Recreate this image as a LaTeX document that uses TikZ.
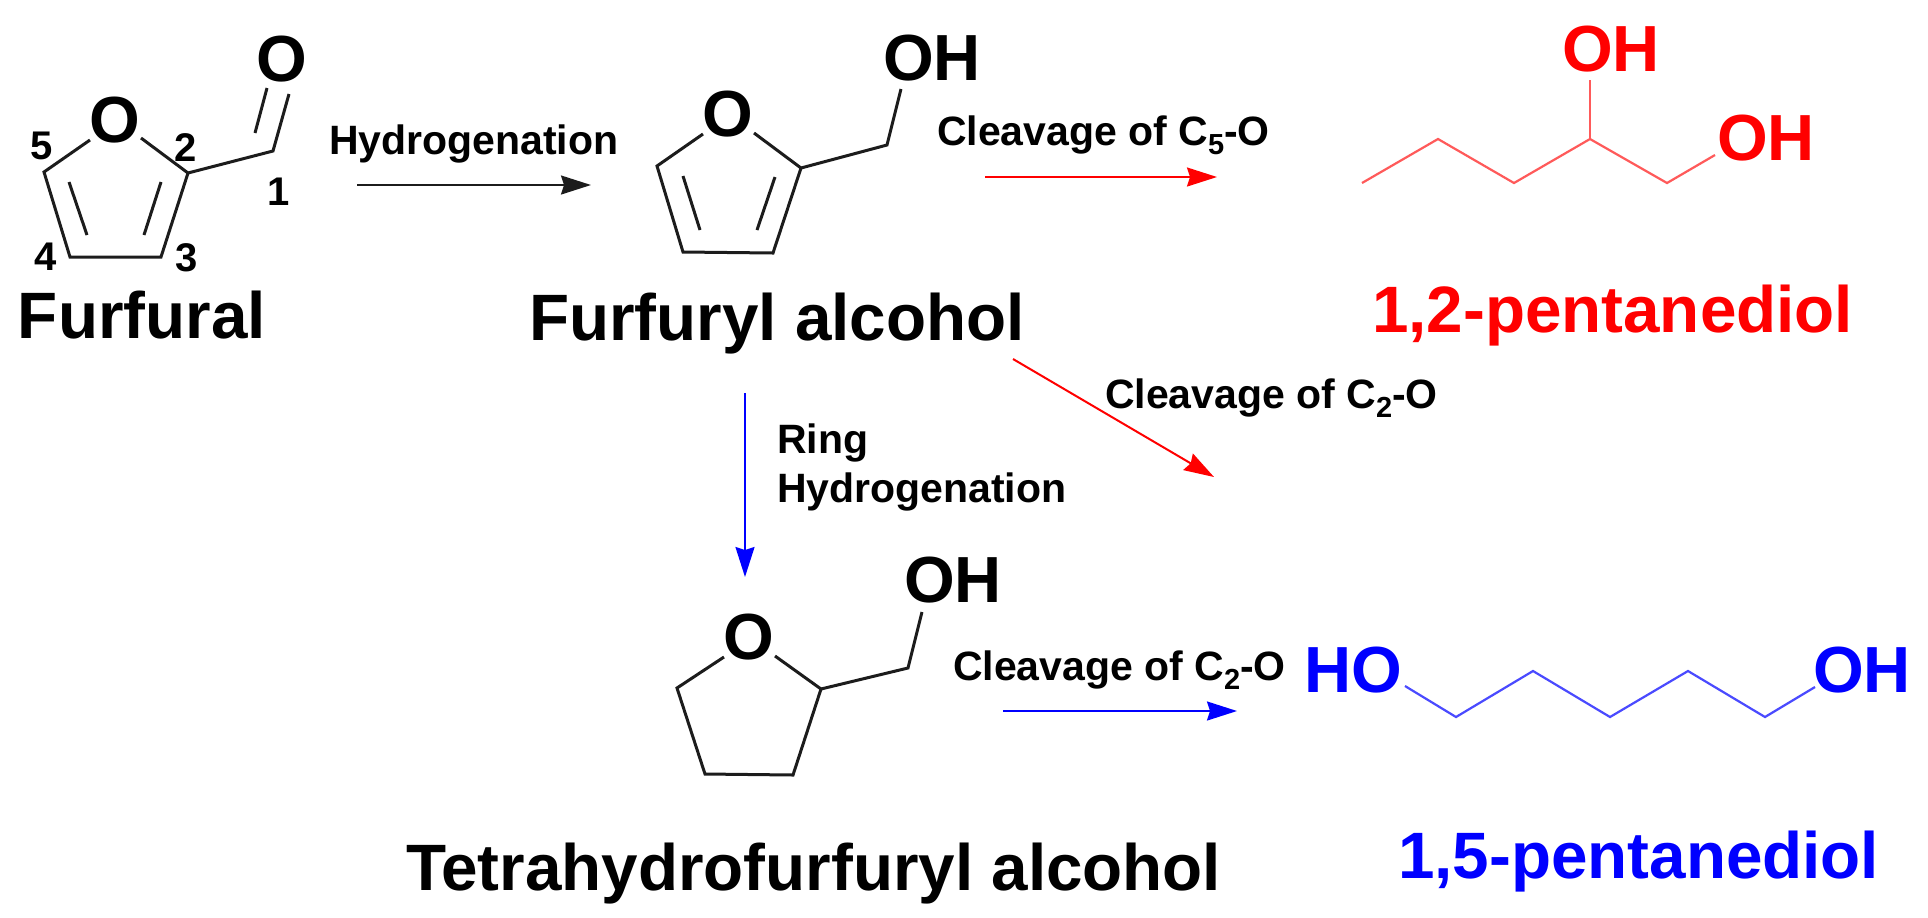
\documentclass[tikz,border=0pt]{standalone}
\usepackage{fontspec}
\setmainfont{Liberation Sans}
\usetikzlibrary{arrows.meta}
\newcommand{\subnum}[1]{\raisebox{-0.24em}{\fontsize{14.5}{14.5}\selectfont #1}}
\definecolor{bondblack}{HTML}{1C1C1C}
\definecolor{chainred}{HTML}{FF5A5A}
\definecolor{chainblue}{HTML}{4A4AFF}
\tikzset{
  x=0.5pt,y=-0.5pt,
  atom/.style={inner sep=0pt,outer sep=0pt,anchor=center,font=\fontsize{32.6}{32.6}\selectfont\bfseries},
  compound/.style={inner sep=0pt,outer sep=0pt,anchor=base west,font=\fontsize{32.8}{32.8}\selectfont\bfseries},
  condition/.style={inner sep=0pt,outer sep=0pt,anchor=base west,font=\fontsize{20.5}{20.5}\selectfont\bfseries},
  locant/.style={inner sep=0pt,outer sep=0pt,anchor=center,font=\fontsize{20}{20}\selectfont\bfseries},
  bond/.style={draw=bondblack,line width=1.5pt,line join=miter},
  redchain/.style={draw=chainred,line width=1.1pt,line join=miter},
  bluechain/.style={draw=chainblue,line width=1.1pt,line join=miter},
  rxn/.style={line width=1pt,-{Stealth[length=15pt,width=9.5pt,inset=1.5pt]}},
}
\begin{document}
\begin{tikzpicture}
\useasboundingbox (0,0) rectangle (1928,917);

% --- Furfural ---
\node[atom] (aO) at (115,120) {O};
\node[atom] (aOc) at (282,59) {O};
\coordinate (a5) at (44,172);
\coordinate (a4) at (70,257);
\coordinate (a3) at (161,257);
\coordinate (a2) at (188,173);
\coordinate (a1) at (273,151);
\coordinate (aOl) at (90,140);
\coordinate (aOr) at (141,138);
\coordinate (ad1a) at (69,182);
\coordinate (ad1b) at (87,235);
\coordinate (ad2a) at (161,182);
\coordinate (ad2b) at (144,235);
\coordinate (acoa) at (289,94);
\coordinate (acob) at (267,88);
\coordinate (acoc) at (255,133);
\draw[bond] (aOl) -- (a5) -- (a4) -- (a3) -- (a2) -- (aOr);
\draw[bond] (ad1a) -- (ad1b);
\draw[bond] (ad2a) -- (ad2b);
\draw[bond] (a2) -- (a1) -- (acoa);
\draw[bond] (acob) -- (acoc);
\node[locant] (n5) at (42,146) {5};
\node[locant] (n2) at (186,148) {2};
\node[locant] (n1) at (279,192) {1};
\node[locant] (n4) at (46,257) {4};
\node[locant] (n3) at (187,258) {3};
\node[compound] (lFurfural) at (18,338) {Furfural};

% --- Hydrogenation ---
\node[condition] (lHyd) at (329,154) {Hydrogenation};
\coordinate (h1s) at (357,185);
\coordinate (h1e) at (591,185);
\draw[rxn,bondblack] (h1s) -- (h1e);

% --- Furfuryl alcohol ---
\node[atom] (bO) at (728,114) {O};
\node[atom] (bOH) at (932,58) {OH};
\coordinate (b5) at (657,166);
\coordinate (b4) at (683,252);
\coordinate (b3) at (773,253);
\coordinate (b2) at (801,168);
\coordinate (b1) at (887,145);
\coordinate (bOl) at (703,134);
\coordinate (bOr) at (754,133);
\coordinate (bd1a) at (683,176);
\coordinate (bd1b) at (700,230);
\coordinate (bd2a) at (775,177);
\coordinate (bd2b) at (757,230);
\coordinate (bohe) at (901,89);
\draw[bond] (bOl) -- (b5) -- (b4) -- (b3) -- (b2) -- (bOr);
\draw[bond] (bd1a) -- (bd1b);
\draw[bond] (bd2a) -- (bd2b);
\draw[bond] (b2) -- (b1) -- (bohe);
\node[compound] (lFA) at (529,340) {Furfuryl alcohol};

% --- Cleavage C5-O ---
\node[condition] (lC5) at (937,145) {Cleavage of C\subnum{5}-O};
\coordinate (r1s) at (985,177);
\coordinate (r1e) at (1217,177);
\draw[rxn,red] (r1s) -- (r1e);

% --- 1,2-pentanediol ---
\node[atom,text=red] (cOH1) at (1611,49) {OH};
\node[atom,text=red] (cOH2) at (1766,138) {OH};
\coordinate (c1) at (1362,183);
\coordinate (c2) at (1438,139);
\coordinate (c3) at (1514,183);
\coordinate (c4) at (1590,139);
\coordinate (c5) at (1667,183);
\coordinate (c6) at (1715,155);
\coordinate (c7) at (1590,80);
\draw[redchain] (c1) -- (c2) -- (c3) -- (c4) -- (c5) -- (c6);
\draw[redchain] (c4) -- (c7);
\node[compound,text=red] (l12) at (1372,332) {1,2-pentanediol};

% --- Cleavage C2-O (red diagonal) ---
\node[condition] (lC2a) at (1105,408) {Cleavage of C\subnum{2}-O};
\coordinate (r2s) at (1013,359);
\coordinate (r2e) at (1214,477);
\draw[rxn,red] (r2s) -- (r2e);

% --- Ring hydrogenation ---
\node[condition] (lRing) at (777,453) {Ring};
\node[condition] (lRH) at (777,502) {Hydrogenation};
\coordinate (v1s) at (745,393);
\coordinate (v1e) at (745,577);
\draw[rxn,blue] (v1s) -- (v1e);

% --- THFA ---
\node[atom] (dO) at (749,637) {O};
\node[atom] (dOH) at (953,580) {OH};
\coordinate (d5) at (677,688);
\coordinate (d4) at (705,774);
\coordinate (d3) at (793,775);
\coordinate (d2) at (821,689);
\coordinate (d1) at (908,668);
\coordinate (dOl) at (724,657);
\coordinate (dOr) at (775,656);
\coordinate (dohe) at (922,612);
\draw[bond] (dOl) -- (d5) -- (d4) -- (d3) -- (d2) -- (dOr);
\draw[bond] (d2) -- (d1) -- (dohe);
\node[compound] (lTHFA) at (406,890) {Tetrahydrofurfuryl alcohol};

% --- Cleavage C2-O (blue) ---
\node[condition] (lC2b) at (953,680) {Cleavage of C\subnum{2}-O};
\coordinate (b2s) at (1003,711);
\coordinate (b2e) at (1237,711);
\draw[rxn,blue] (b2s) -- (b2e);

% --- 1,5-pentanediol ---
\node[atom,text=blue] (eHO) at (1353,670) {HO};
\node[atom,text=blue] (eOH) at (1862,670) {OH};
\coordinate (e0) at (1405,686);
\coordinate (e1) at (1456,717);
\coordinate (e2) at (1533,671);
\coordinate (e3) at (1610,717);
\coordinate (e4) at (1688,671);
\coordinate (e5) at (1765,717);
\coordinate (e6) at (1815,687);
\draw[bluechain] (e0) -- (e1) -- (e2) -- (e3) -- (e4) -- (e5) -- (e6);
\node[compound,text=blue] (l15) at (1398,878) {1,5-pentanediol};
\end{tikzpicture}
\end{document}
